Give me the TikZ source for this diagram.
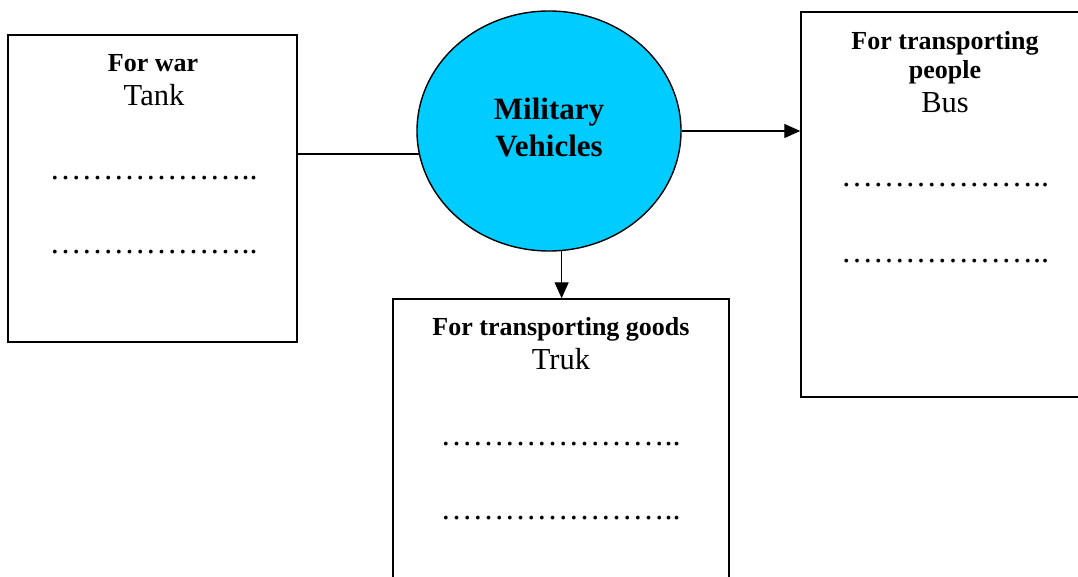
\documentclass[tikz,border=0pt]{standalone}
\usepackage{fontspec}
\setmainfont{Liberation Serif}
\usetikzlibrary{arrows.meta,shapes.geometric}
\definecolor{vcyan}{HTML}{00CCFF}
\def\eld{…}
\tikzset{
  box/.style={draw=black,line width=1.4pt,rectangle,inner sep=0pt},
  head/.style={anchor=base,inner sep=0pt,font=\fontsize{26}{26}\selectfont\bfseries},
  item/.style={anchor=base,inner sep=0pt,font=\fontsize{30.5}{30.5}\selectfont},
  dots/.style={anchor=base,inner sep=0pt,font=\fontsize{32}{32}\selectfont},
  conn/.style={line width=1.3pt},
  arr/.style={line width=1.3pt,-{Triangle[length=16pt,width=14pt]}}
}
\begin{document}
\begin{tikzpicture}[x=1pt,y=-1pt]
\clip (0,0) rectangle (1078,577);
\fill[white] (0,0) rectangle (1078,577);
% boxes
\node[box,minimum width=289pt,minimum height=307pt] (war) at (152.5,188.5) {};
\node[box,minimum width=289pt,minimum height=385pt] (people) at (945.5,204.5) {};
\node[box,minimum width=336pt,minimum height=291pt] (goods) at (561,444.5) {};
% centre
\node[ellipse,draw=black,line width=1.4pt,fill=vcyan,minimum width=264pt,minimum height=240pt,inner sep=0pt] (mv) at (549,131) {};
\node[head,font=\fontsize{31}{31}\selectfont\bfseries] (mv1) at (549,120) {Military};
\node[head,font=\fontsize{31}{31}\selectfont\bfseries] (mv2) at (549,157) {Vehicles};
% left box texts
\node[head] (wart) at (153,72) {For war};
\node[item] (tank) at (154,106) {Tank};
\node[dots] (wd1) at (153.5,180) {\eld\eld\eld\eld\eld\eld..};
\node[dots] (wd2) at (153.5,254) {\eld\eld\eld\eld\eld\eld..};
% right box texts
\node[head] (pt1) at (945,50) {For transporting};
\node[head] (pt2) at (945,79) {people};
\node[item] (bus) at (945,113) {Bus};
\node[dots] (pd1) at (945,187) {\eld\eld\eld\eld\eld\eld..};
\node[dots] (pd2) at (945,262) {\eld\eld\eld\eld\eld\eld..};
% bottom box texts
\node[head] (gt) at (561,335) {For transporting goods};
\node[item] (truk) at (561,369) {Truk};
\node[dots] (gd1) at (560.5,445) {\eld\eld\eld\eld\eld\eld\eld..};
\node[dots] (gd2) at (560.5,519) {\eld\eld\eld\eld\eld\eld\eld..};
% connectors
\draw[conn] (mv.190.5) -- (mv.190.5 -| war.east);
\draw[arr] (mv.east) -- (mv.east -| people.west);
\draw[arr] (mv.-84.3) -- (mv.-84.3 |- goods.north);
\end{tikzpicture}
\end{document}
